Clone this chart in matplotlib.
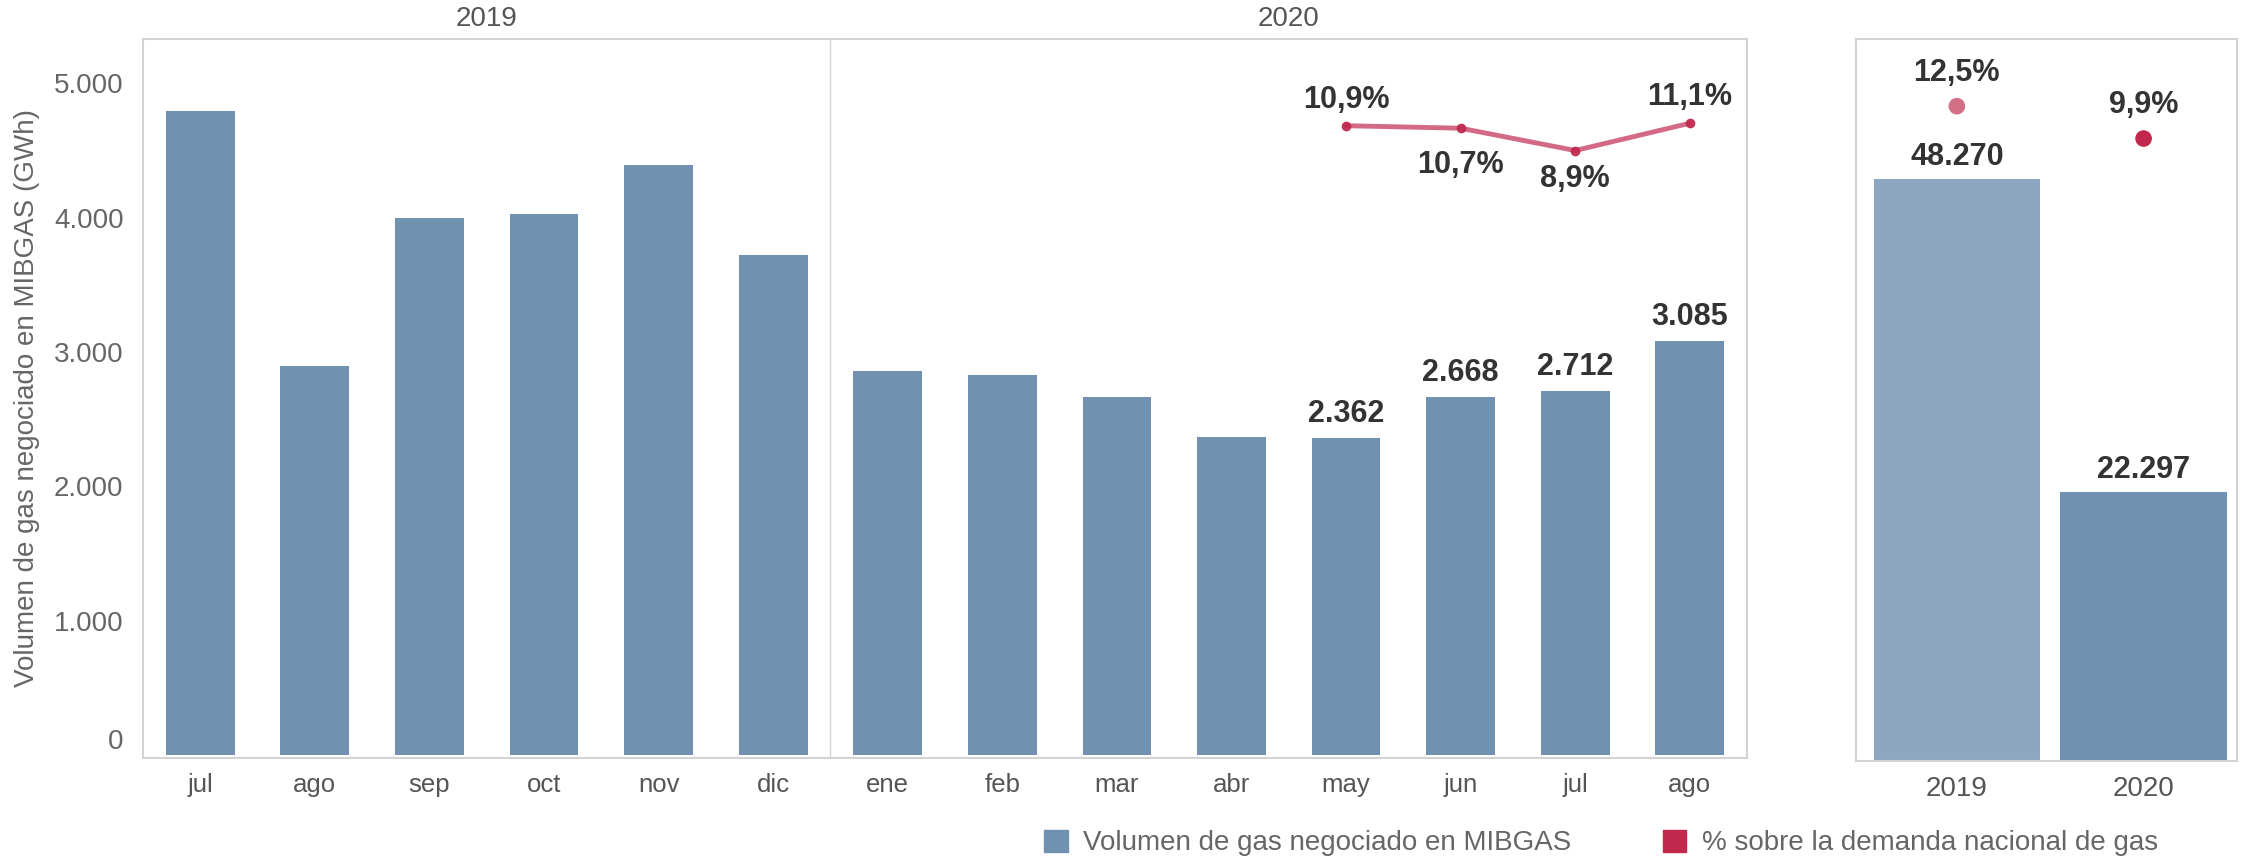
import matplotlib
matplotlib.use('Agg')
from matplotlib import pyplot as plt
from matplotlib.patches import Patch

# Data #
months = ['jul', 'ago', 'sep', 'oct', 'nov', 'dic',
          'ene', 'feb', 'mar', 'abr', 'may', 'jun', 'jul', 'ago']
year_headers = ['2019', '2020']
volume = [4792, 2899, 3998, 4028, 4390, 3723,
          2856, 2832, 2665, 2365, 2362, 2668, 2712, 3085]
labelled_idx = [10, 11, 12, 13]
pct_idx = [10, 11, 12, 13]
pct_month = [10.9, 10.7, 8.9, 11.1]

years = ['2019', '2020']
volume_year = [48270, 22297]
pct_year = [12.5, 9.9]

# Colours #
BLUE = '#7191b0'
BLUE_LIGHT = '#8da7c0'
RED = '#c0284c'
PINK = '#d47085'
LINE = '#cf5a78'
FRAME = '#d3d3d3'
TXT = '#333333'
GREY = '#666666'

plt.rcParams['font.family'] = ['Liberation Sans', 'DejaVu Sans']


def fmt_num(v):
    return f'{v:,}'.replace(',', '.')


def fmt_pct(p):
    return f'{p:.1f}%'.replace('.', ',')


def style_frame(ax):
    for s in ax.spines.values():
        s.set_color(FRAME)
        s.set_linewidth(1.5)


fig = plt.figure(figsize=(22.41, 8.58), dpi=100)

# Monthly panel #
ax = fig.add_axes([0.0638, 0.1166, 0.7158, 0.8380])
x = list(range(len(months)))
ax.bar(x, volume, width=0.6, color=BLUE, edgecolor='none')
ax.set_xlim(-0.5, len(months) - 0.5)
ax.set_ylim(-20, 5330)
ax.axvline(5.5, color=FRAME, linewidth=1)
ax.set_xticks(x)
ax.set_xticklabels(months, fontsize=18.5, color='#555555')
yt = [0, 1000, 2000, 3000, 4000, 5000]
ax.set_yticks(yt)
ax.set_yticklabels([fmt_num(v) for v in yt], fontsize=20, color=GREY)
ax.get_yticklabels()[0].set_va('bottom')
ax.tick_params(length=0, axis='y', pad=14)
ax.tick_params(length=0, axis='x', pad=11)
ax.set_ylabel('Volumen de gas negociado en MIBGAS (GWh)', fontsize=20, color=GREY, labelpad=10)
style_frame(ax)

for i in labelled_idx:
    ax.annotate(fmt_num(volume[i]), (i, volume[i]), xytext=(0, 6), textcoords='offset points',
                ha='center', va='bottom', fontsize=22, fontweight='bold', color=TXT)

# Year headers #
ax.text(2.5, 1.01, year_headers[0], transform=ax.get_xaxis_transform(), ha='center', va='bottom',
        fontsize=20, color='#555555')
ax.text(9.5, 1.01, year_headers[1], transform=ax.get_xaxis_transform(), ha='center', va='bottom',
        fontsize=20, color='#555555')

ax2 = ax.twinx()
ax2.set_ylim(-40.1, 17.9)
ax2.set_yticks([])
for s in ax2.spines.values():
    s.set_visible(False)
ax2.plot(pct_idx, pct_month, color=LINE, linewidth=3.5, alpha=0.9,
         marker='o', markersize=6, markerfacecolor=RED, markeredgecolor=RED)
offsets = [8, -16, -10, 8]
for xi, p, off in zip(pct_idx, pct_month, offsets):
    ax2.annotate(fmt_pct(p), (xi, p), xytext=(0, off), textcoords='offset points',
                 ha='center', va='bottom' if off > 0 else 'top',
                 fontsize=22, fontweight='bold', color=TXT)

# Yearly panel #
bx = fig.add_axes([0.8282, 0.1131, 0.1700, 0.8415])
xy = list(range(len(years)))
bx.bar(xy, volume_year, width=0.89, color=[BLUE_LIGHT, BLUE], edgecolor='none')
bx.set_xlim(-0.54, 1.5)
bx.set_ylim(0, 59900)
bx.set_yticks([])
bx.set_xticks(xy)
bx.set_xticklabels(years, fontsize=20, color='#555555')
bx.tick_params(length=0, axis='x', pad=11)
style_frame(bx)
for i, v in enumerate(volume_year):
    bx.annotate(fmt_num(v), (i, v), xytext=(0, 5), textcoords='offset points',
                ha='center', va='bottom', fontsize=22, fontweight='bold', color=TXT)

bx2 = bx.twinx()
bx2.set_ylim(-40.1, 17.9)
bx2.set_yticks([])
for s in bx2.spines.values():
    s.set_visible(False)
bx2.scatter(xy, pct_year, s=120, color=[PINK, RED], zorder=3)
for i, p in enumerate(pct_year):
    bx2.annotate(fmt_pct(p), (i, p), xytext=(0, 13), textcoords='offset points',
                 ha='center', va='bottom', fontsize=22, fontweight='bold', color=TXT)

# Legend #
handles = [Patch(color=BLUE, label='Volumen de gas negociado en MIBGAS'),
           Patch(color=RED, label='% sobre la demanda nacional de gas')]
leg = fig.legend(handles=handles, loc='center left', bbox_to_anchor=(1044 / 2241, 1 - 843 / 858),
                 ncol=2, frameon=False, fontsize=20, handlelength=0.85, handleheight=0.85,
                 handletextpad=0.55, columnspacing=3.3, borderpad=0, borderaxespad=0)
for t in leg.get_texts():
    t.set_color(GREY)

fig.savefig('out.png', dpi=100)
